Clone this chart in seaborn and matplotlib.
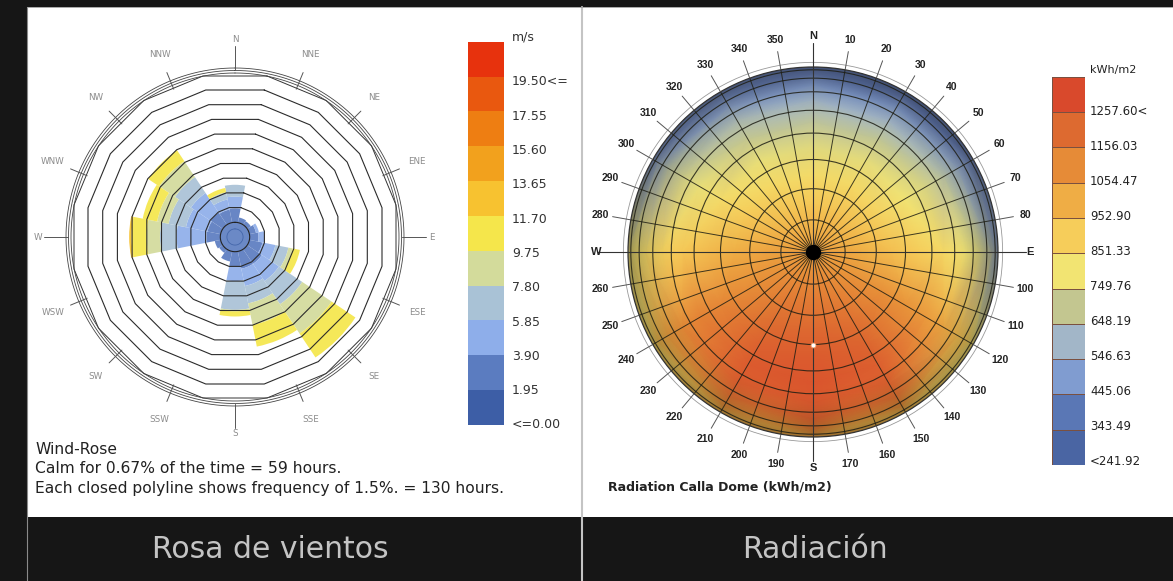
import numpy as np
import matplotlib
matplotlib.use("Agg")
import matplotlib.pyplot as plt
import seaborn as sns
from matplotlib.patches import Rectangle, Circle
from matplotlib.colors import ListedColormap, LinearSegmentedColormap, Normalize

sns.set_theme(style="white")
plt.rcParams["font.family"] = ["DejaVu Sans"]

W, H, DPI = 1173, 581, 100

# ---------------- wind rose data ----------------
DIRECTIONS = ["N", "NNE", "NE", "ENE", "E", "ESE", "SE", "SSE",
              "S", "SSW", "SW", "WSW", "W", "WNW", "NW", "NNW"]
SPEED_LABELS = ["<=0.00", "1.95", "3.90", "5.85", "7.80", "9.75",
                "11.70", "13.65", "15.60", "17.55", "19.50<="]
WIND_COLORS = ["#3d5ea6", "#5b7cc0", "#8eaeea", "#a9c2d6", "#d3db9b", "#f5e64b",
               "#f7c230", "#f2a11d", "#ee7e12", "#e9580f", "#e7320d"]
# frequency (% of the year) per direction, one list per speed class
FREQ_0_195 = [1.43, 0.53, 0.45, 0.68, 0.90, 1.35, 1.80, 1.80, 1.50, 1.05, 0.45, 0.60, 1.40, 1.35, 1.50, 1.35]
FREQ_195_390 = [1.20, 0, 0, 0.30, 0.60, 1.35, 2.10, 1.80, 1.50, 0, 0, 0, 3.06, 2.25, 2.40, 1.05]
FREQ_390_585 = [1.20, 0, 0, 0, 0, 1.35, 2.85, 1.80, 2.93, 0, 0, 0, 1.70, 1.80, 1.95, 0.75]
FREQ_585_780 = [0, 0, 0, 0, 0, 0.45, 3.60, 2.25, 0.15, 0, 0, 0, 1.35, 1.20, 1.95, 0]
FREQ_780_975 = [0, 0, 0, 0, 0, 0.75, 2.93, 2.25, 0.53, 0, 0, 0, 1.55, 1.50, 1.35, 0.45]
FREQ_975_1170 = [0, 0, 0, 0, 0, 0, 0, 0, 0, 0, 0, 0, 0.24, 0, 0, 0]
RING_STEP = 1.5          # % per closed polyline
N_RINGS = 10
WIND_NOTES = ["Wind-Rose",
              "Calm for 0.67% of the time = 59 hours.",
              "Each closed polyline shows frequency of 1.5%. = 130 hours."]

# ---------------- radiation dome data ----------------
ALTITUDES = [5, 15, 25, 35, 45, 55, 65, 75, 85]
AZIMUTHS = [0, 30, 60, 90, 120, 150, 180, 210, 240, 270, 300, 330]
RADIATION = [
    [400, 380, 420, 560, 800, 950, 1020, 980, 860, 780, 480, 430],
    [420, 420, 470, 650, 880, 1080, 1130, 1080, 950, 800, 560, 450],
    [500, 500, 560, 740, 950, 1180, 1230, 1180, 1040, 840, 660, 530],
    [600, 600, 660, 800, 1020, 1230, 1260, 1240, 1100, 880, 720, 630],
    [680, 690, 740, 860, 1060, 1240, 1270, 1250, 1130, 920, 780, 700],
    [760, 770, 800, 900, 1080, 1220, 1250, 1230, 1120, 960, 840, 780],
    [840, 850, 870, 950, 1090, 1180, 1210, 1190, 1100, 1000, 900, 850],
    [920, 930, 950, 1000, 1080, 1130, 1150, 1140, 1090, 1030, 970, 930],
    [1010, 1015, 1025, 1040, 1060, 1075, 1085, 1080, 1065, 1050, 1030, 1015],
]
ZENITH_RADIATION = 1040
RAD_LABELS = ["<241.92", "343.49", "445.06", "546.63", "648.19", "749.76",
              "851.33", "952.90", "1054.47", "1156.03", "1257.60<"]
RAD_COLORS = ["#4a65a3", "#5a77b5", "#809cd0", "#a2b6c8", "#c3c690", "#f2e472",
              "#f6cd5a", "#efad45", "#e68b37", "#dd6a30", "#d9492c"]
RAD_MIN, RAD_STEP = 241.92, 101.57

fig = plt.figure(figsize=(W / DPI, H / DPI), dpi=DPI, facecolor="#161616")


def px_box(x0, y0, w, h):
    """Figure-fraction rectangle from pixel coordinates (origin top-left)."""
    return [x0 / W, 1 - (y0 + h) / H, w / W, h / H]


# panels and separators
bg = fig.add_axes([0, 0, 1, 1], zorder=-10)
bg.set_xlim(0, W)
bg.set_ylim(H, 0)
bg.set_axis_off()
bg.add_patch(Rectangle((27, 7), 554, 510, facecolor="white", edgecolor="none"))
bg.add_patch(Rectangle((583, 7), 590, 510, facecolor="white", edgecolor="none"))
bg.plot([582, 582], [7, H], color="#c4c4c4", lw=1.5)
bg.plot([27, 27], [7, H], color="#8a8a8a", lw=0.8)
bg.plot([27, W], [7, 7], color="#9a9a9a", lw=0.6)

# ---------------- wind rose ----------------
PX_PER_PCT = 9.8
CX, CY, HALF = 235, 237, 215
RMAX = HALF / PX_PER_PCT
ax = fig.add_axes(px_box(CX - HALF, CY - HALF, 2 * HALF, 2 * HALF), projection="polar")
ax.set_theta_zero_location("N")
ax.set_theta_direction(-1)
ax.set_ylim(0, RMAX)
ax.set_axis_off()

sector = 2 * np.pi / len(DIRECTIONS)
theta = np.arange(len(DIRECTIONS)) * sector
bottom = np.full(len(DIRECTIONS), RING_STEP)
speed_series = [FREQ_0_195, FREQ_195_390, FREQ_390_585, FREQ_585_780, FREQ_780_975, FREQ_975_1170]
for i, vals in enumerate(speed_series):
    vals = np.asarray(vals, dtype=float)
    ax.bar(theta, vals, width=sector, bottom=bottom, color=WIND_COLORS[i + 1],
           alpha=0.92, edgecolor="none", zorder=2)
    bottom = bottom + vals

# calm circle
tt = np.linspace(0, 2 * np.pi, 200)
ax.fill(tt, np.full_like(tt, RING_STEP), color=WIND_COLORS[1], alpha=0.9, zorder=2, lw=0)
ax.plot(tt, np.full_like(tt, RING_STEP), color="#222", lw=0.8, zorder=3)
ax.plot(tt, np.full_like(tt, RING_STEP * 0.55), color="#4466aa", lw=0.6, zorder=3)

# closed polylines
vert_ang = np.arange(17) * sector + sector / 2
for k in range(2, N_RINGS + 1):
    rv = k * RING_STEP / np.cos(sector / 2)
    ax.plot(vert_ang, np.full_like(vert_ang, rv), color="#2b2b2b", lw=0.8, zorder=3)
# outer frame
ax.plot(vert_ang, np.full_like(vert_ang, 161 / PX_PER_PCT / np.cos(sector / 2)),
        color="#333", lw=0.7, zorder=3)
for rp in (164, 166.5, 169):
    ax.plot(tt, np.full_like(tt, rp / PX_PER_PCT), color="#444", lw=0.6, zorder=3)
# direction ticks and labels
for i, name in enumerate(DIRECTIONS):
    a = theta[i]
    if i % 4 == 0:
        r0, r1 = 167, 191
    else:
        r0, r1 = 160, 178
    ax.plot([a, a], [r0 / PX_PER_PCT, r1 / PX_PER_PCT], color="#555", lw=0.7, zorder=3)
    ax.text(a, 197 / PX_PER_PCT, name, ha="center", va="center", fontsize=6.3,
            color="#8c8c8c")

# wind colour legend
lax = fig.add_axes(px_box(468, 41.7, 36, 383.3))
sns.heatmap(np.arange(len(WIND_COLORS))[::-1].reshape(-1, 1), ax=lax,
            cmap=ListedColormap(WIND_COLORS), cbar=False,
            xticklabels=False, yticklabels=False)
lax.set_axis_off()
fig.text(512 / W, 1 - 36.5 / H, "m/s", fontsize=9, color="#333", va="center")
for j, lab in enumerate(SPEED_LABELS[::-1]):
    yy = 81.7 + j * 34.33
    fig.text(512 / W, 1 - yy / H, lab, fontsize=9, color="#333", va="center")

for j, line in enumerate(WIND_NOTES):
    fig.text(35 / W, 1 - (449 + j * 19.5) / H, line, fontsize=11.2, color="#222", va="center")

# ---------------- radiation dome ----------------
DX, DY, DR = 813, 252, 185
DHALF = 240
dax = fig.add_axes(px_box(DX - DHALF, DY - DHALF, 2 * DHALF, 2 * DHALF))
lim = DHALF / DR
dax.set_xlim(-lim, lim)
dax.set_ylim(-lim, lim)
dax.set_aspect("equal")
dax.set_axis_off()

alt = np.radians(np.asarray(ALTITUDES, dtype=float))
az = np.radians(np.asarray(AZIMUTHS, dtype=float))
A, Z = np.meshgrid(alt, az, indexing="ij")
rad = np.asarray(RADIATION, dtype=float)
px = (np.cos(A) * np.sin(Z)).ravel()
py = (np.cos(A) * np.cos(Z)).ravel()
pv = rad.ravel()
# pad the mesh past the horizon with the horizon row so the disc is fully covered
rim_x = 1.08 * np.sin(az)
rim_y = 1.08 * np.cos(az)
px = np.concatenate([px, rim_x, [0.0]])
py = np.concatenate([py, rim_y, [0.0]])
pv = np.concatenate([pv, rad[0], [ZENITH_RADIATION]])

rad_cmap = LinearSegmentedColormap.from_list("rad", RAD_COLORS)
rad_norm = Normalize(RAD_MIN + 0.5 * RAD_STEP, RAD_MIN + 10.5 * RAD_STEP)
disc = Circle((0, 0), 1.0, transform=dax.transData)
mesh = dax.tripcolor(px, py, pv, shading="gouraud", cmap=rad_cmap, norm=rad_norm, zorder=1)
mesh.set_clip_path(disc)

# dome shading toward the horizon
gx, gy = np.meshgrid(np.linspace(-1, 1, 400), np.linspace(-1, 1, 400))
gr = np.hypot(gx, gy)
shade = np.zeros((400, 400, 4))
shade[..., 0] = 0.12
shade[..., 1] = 0.08
shade[..., 2] = 0.05
shade[..., 3] = 0.38 * np.clip((gr - 0.72) / 0.28, 0, 1) ** 2
im = dax.imshow(shade, extent=(-1, 1, -1, 1), origin="lower", zorder=2)
im.set_clip_path(Circle((0, 0), 1.0, transform=dax.transData))

# altitude circles and azimuth lines
GRID = "#1e1e14"
for a_deg in range(10, 90, 10):
    dax.add_patch(Circle((0, 0), np.cos(np.radians(a_deg)), fill=False,
                         edgecolor=GRID, lw=0.8, alpha=0.85, zorder=3))
dax.add_patch(Circle((0, 0), 1.0, fill=False, edgecolor="#333", lw=0.9, zorder=3))
dax.add_patch(Circle((0, 0), 1.025, fill=False, edgecolor="#999", lw=0.6, zorder=3))
for d in range(0, 360, 10):
    t = np.radians(d)
    dax.plot([0, np.sin(t)], [0, np.cos(t)], color=GRID, lw=0.7, alpha=0.85, zorder=3)
    if d % 90 == 0:
        continue
    dax.plot([1.0 * np.sin(t), 1.1 * np.sin(t)], [1.0 * np.cos(t), 1.1 * np.cos(t)],
             color="#555", lw=0.7, zorder=3)
    dax.text(1.165 * np.sin(t), 1.165 * np.cos(t), str(d), ha="center", va="center",
             fontsize=7.5, fontweight="bold", color="#222",
             family=["Liberation Sans", "DejaVu Sans"])
dax.plot([0, 0], [-1.13, 1.13], color="#333", lw=0.8, zorder=3)
dax.plot([-1.16, 1.15], [0, 0], color="#333", lw=0.8, zorder=3)
for name, ang in (("N", 0), ("E", 90), ("S", 180), ("W", 270)):
    t = np.radians(ang)
    dax.text(1.17 * np.sin(t), 1.17 * np.cos(t), name, ha="center", va="center",
             fontsize=8, fontweight="bold", color="#222",
             family=["Liberation Sans", "DejaVu Sans"])
dax.plot(0, 0, "o", ms=10, color="black", zorder=5)
dax.plot(0, -0.5, "o", ms=3.5, mfc="white", mec="#f0a070", mew=0.6, zorder=5)

fig.text(608 / W, 1 - 487 / H, "Radiation Calla Dome (kWh/m2)", fontsize=9,
         fontweight="bold", color="#222", va="center")

# radiation colour legend
rax = fig.add_axes(px_box(1052, 76.7, 33, 388.3))
sns.heatmap(np.arange(len(RAD_COLORS))[::-1].reshape(-1, 1), ax=rax,
            cmap=ListedColormap(RAD_COLORS), cbar=False, linewidths=0.5,
            linecolor="#7a5040", xticklabels=False, yticklabels=False)
rax.set_axis_off()
fig.text(1090 / W, 1 - 70 / H, "kWh/m2", fontsize=8, color="#222", va="center")
for j, lab in enumerate(RAD_LABELS[::-1]):
    yy = 111.7 + j * 35.0
    fig.text(1090 / W, 1 - yy / H, lab, fontsize=8.5, color="#222", va="center")

# captions
for text, xc in (("Rosa de vientos", 270), ("Radiación", 815)):
    fig.text(xc / W, 1 - 550 / H, text, fontsize=21.5, color="#c4c4c4", ha="center",
             va="center", family=["DejaVu Sans"], fontweight="normal")

fig.savefig("out.png", dpi=DPI, facecolor=fig.get_facecolor())
